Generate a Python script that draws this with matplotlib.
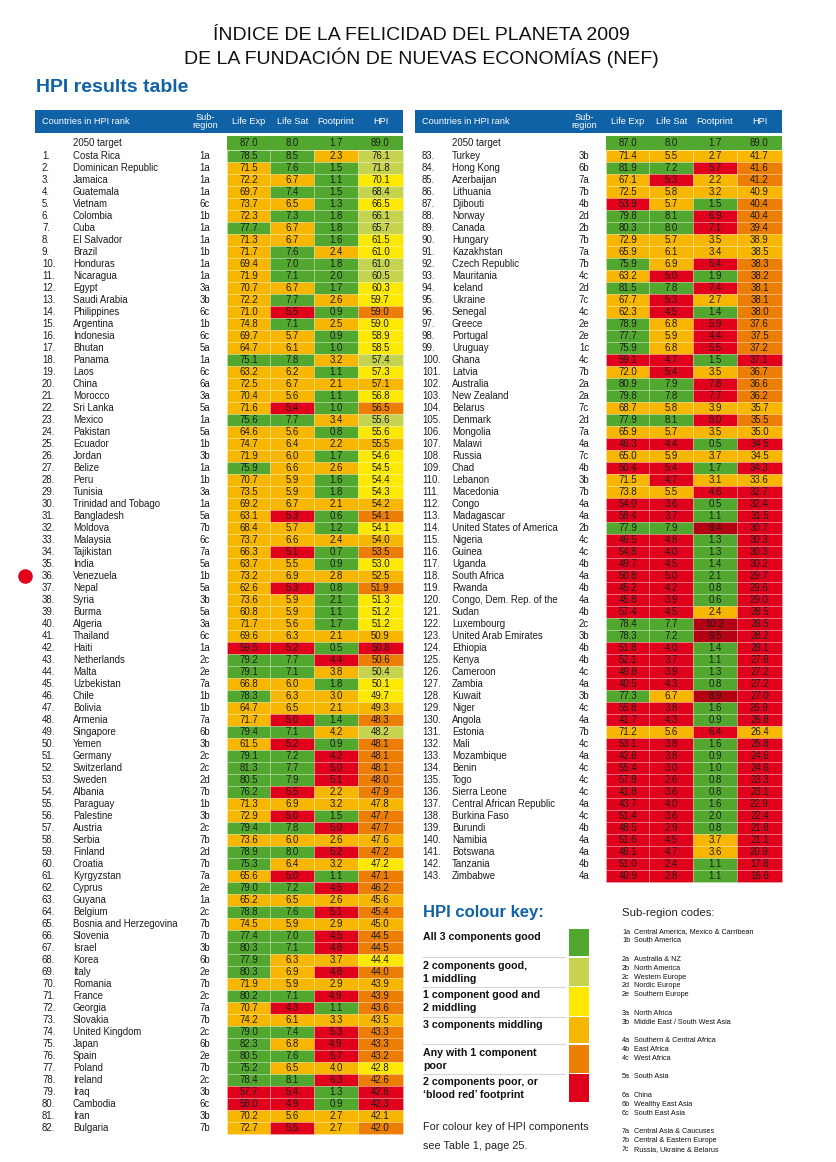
import matplotlib
matplotlib.use("Agg")
import matplotlib.pyplot as plt

# ---------------- DATA ----------------
countries_left = ["Costa Rica", "Dominican Republic", "Jamaica", "Guatemala", "Vietnam", "Colombia", "Cuba",
    "El Salvador", "Brazil", "Honduras", "Nicaragua", "Egypt", "Saudi Arabia", "Philippines", "Argentina",
    "Indonesia", "Bhutan", "Panama", "Laos", "China", "Morocco", "Sri Lanka", "Mexico", "Pakistan", "Ecuador",
    "Jordan", "Belize", "Peru", "Tunisia", "Trinidad and Tobago", "Bangladesh", "Moldova", "Malaysia",
    "Tajikistan", "India", "Venezuela", "Nepal", "Syria", "Burma", "Algeria", "Thailand", "Haiti",
    "Netherlands", "Malta", "Uzbekistan", "Chile", "Bolivia", "Armenia", "Singapore", "Yemen", "Germany",
    "Switzerland", "Sweden", "Albania", "Paraguay", "Palestine", "Austria", "Serbia", "Finland", "Croatia",
    "Kyrgyzstan", "Cyprus", "Guyana", "Belgium", "Bosnia and Herzegovina", "Slovenia", "Israel", "Korea",
    "Italy", "Romania", "France", "Georgia", "Slovakia", "United Kingdom", "Japan", "Spain", "Poland",
    "Ireland", "Iraq", "Cambodia", "Iran", "Bulgaria"]
countries_right = ["Turkey", "Hong Kong", "Azerbaijan", "Lithuania", "Djibouti", "Norway", "Canada", "Hungary",
    "Kazakhstan", "Czech Republic", "Mauritania", "Iceland", "Ukraine", "Senegal", "Greece", "Portugal",
    "Uruguay", "Ghana", "Latvia", "Australia", "New Zealand", "Belarus", "Denmark", "Mongolia", "Malawi",
    "Russia", "Chad", "Lebanon", "Macedonia", "Congo", "Madagascar", "United States of America", "Nigeria",
    "Guinea", "Uganda", "South Africa", "Rwanda", "Congo, Dem. Rep. of the", "Sudan", "Luxembourg",
    "United Arab Emirates", "Ethiopia", "Kenya", "Cameroon", "Zambia", "Kuwait", "Niger", "Angola", "Estonia",
    "Mali", "Mozambique", "Benin", "Togo", "Sierra Leone", "Central African Republic", "Burkina Faso",
    "Burundi", "Namibia", "Botswana", "Tanzania", "Zimbabwe"]
countries = countries_left + countries_right

subregions = ["1a", "1a", "1a", "1a", "6c", "1b", "1a", "1a", "1b", "1a", "1a", "3a", "3b", "6c", "1b", "6c",
    "5a", "1a", "6c", "6a", "3a", "5a", "1a", "5a", "1b", "3b", "1a", "1b", "3a", "1a", "5a", "7b", "6c", "7a",
    "5a", "1b", "5a", "3b", "5a", "3a", "6c", "1a", "2c", "2e", "7a", "1b", "1b", "7a", "6b", "3b", "2c", "2c",
    "2d", "7b", "1b", "3b", "2c", "7b", "2d", "7b", "7a", "2e", "1a", "2c", "7b", "7b", "3b", "6b", "2e", "7b",
    "2c", "7a", "7b", "2c", "6b", "2e", "7b", "2c", "3b", "6c", "3b", "7b",
    "3b", "6b", "7a", "7b", "4b", "2d", "2b", "7b", "7a", "7b", "4c", "2d", "7c", "4c", "2e", "2e", "1c", "4c",
    "7b", "2a", "2a", "7c", "2d", "7a", "4a", "7c", "4b", "3b", "7b", "4a", "4a", "2b", "4c", "4c", "4b", "4a",
    "4b", "4a", "4b", "2c", "3b", "4b", "4b", "4c", "4a", "3b", "4c", "4a", "7b", "4c", "4a", "4c", "4c", "4c",
    "4a", "4c", "4b", "4a", "4a", "4b", "4a"]

life_exp = [78.5, 71.5, 72.2, 69.7, 73.7, 72.3, 77.7, 71.3, 71.7, 69.4, 71.9, 70.7, 72.2, 71.0, 74.8, 69.7,
    64.7, 75.1, 63.2, 72.5, 70.4, 71.6, 75.6, 64.6, 74.7, 71.9, 75.9, 70.7, 73.5, 69.2, 63.1, 68.4, 73.7, 66.3,
    63.7, 73.2, 62.6, 73.6, 60.8, 71.7, 69.6, 59.5, 79.2, 79.1, 66.8, 78.3, 64.7, 71.7, 79.4, 61.5, 79.1, 81.3,
    80.5, 76.2, 71.3, 72.9, 79.4, 73.6, 78.9, 75.3, 65.6, 79.0, 65.2, 78.8, 74.5, 77.4, 80.3, 77.9, 80.3, 71.9,
    80.2, 70.7, 74.2, 79.0, 82.3, 80.5, 75.2, 78.4, 57.7, 58.0, 70.2, 72.7,
    71.4, 81.9, 67.1, 72.5, 53.9, 79.8, 80.3, 72.9, 65.9, 75.9, 63.2, 81.5, 67.7, 62.3, 78.9, 77.7, 75.9, 59.1,
    72.0, 80.9, 79.8, 68.7, 77.9, 65.9, 46.3, 65.0, 50.4, 71.5, 73.8, 54.0, 58.4, 77.9, 46.5, 54.8, 49.7, 50.8,
    45.2, 45.8, 57.4, 78.4, 78.3, 51.8, 52.1, 49.8, 40.5, 77.3, 55.8, 41.7, 71.2, 53.1, 42.8, 55.4, 57.8, 41.8,
    43.7, 51.4, 48.5, 51.6, 48.1, 51.0, 40.9]

life_sat = [8.5, 7.6, 6.7, 7.4, 6.5, 7.3, 6.7, 6.7, 7.6, 7.0, 7.1, 6.7, 7.7, 5.5, 7.1, 5.7, 6.1, 7.8, 6.2, 6.7,
    5.6, 5.4, 7.7, 5.6, 6.4, 6.0, 6.6, 5.9, 5.9, 6.7, 5.3, 5.7, 6.6, 5.1, 5.5, 6.9, 5.3, 5.9, 5.9, 5.6, 6.3, 5.2,
    7.7, 7.1, 6.0, 6.3, 6.5, 5.0, 7.1, 5.2, 7.2, 7.7, 7.9, 5.5, 6.9, 5.0, 7.8, 6.0, 8.0, 6.4, 5.0, 7.2, 6.5, 7.6,
    5.9, 7.0, 7.1, 6.3, 6.9, 5.9, 7.1, 4.3, 6.1, 7.4, 6.8, 7.6, 6.5, 8.1, 5.4, 4.9, 5.6, 5.5,
    5.5, 7.2, 5.3, 5.8, 5.7, 8.1, 8.0, 5.7, 6.1, 6.9, 5.0, 7.8, 5.3, 4.5, 6.8, 5.9, 6.8, 4.7, 5.4, 7.9, 7.8, 5.8,
    8.1, 5.7, 4.4, 5.9, 5.4, 4.7, 5.5, 3.6, 3.7, 7.9, 4.8, 4.0, 4.5, 5.0, 4.2, 3.9, 4.5, 7.7, 7.2, 4.0, 3.7, 3.9,
    4.3, 6.7, 3.8, 4.3, 5.6, 3.8, 3.8, 3.0, 2.6, 3.6, 4.0, 3.6, 2.9, 4.5, 4.7, 2.4, 2.8]

footprint = [2.3, 1.5, 1.1, 1.5, 1.3, 1.8, 1.8, 1.6, 2.4, 1.8, 2.0, 1.7, 2.6, 0.9, 2.5, 0.9, 1.0, 3.2, 1.1, 2.1,
    1.1, 1.0, 3.4, 0.8, 2.2, 1.7, 2.6, 1.6, 1.8, 2.1, 0.6, 1.2, 2.4, 0.7, 0.9, 2.8, 0.8, 2.1, 1.1, 1.7, 2.1, 0.5,
    4.4, 3.8, 1.8, 3.0, 2.1, 1.4, 4.2, 0.9, 4.2, 5.0, 5.1, 2.2, 3.2, 1.5, 5.0, 2.6, 5.2, 3.2, 1.1, 4.5, 2.6, 5.1,
    2.9, 4.5, 4.8, 3.7, 4.8, 2.9, 4.9, 1.1, 3.3, 5.3, 4.9, 5.7, 4.0, 6.3, 1.3, 0.9, 2.7, 2.7,
    2.7, 5.7, 2.2, 3.2, 1.5, 6.9, 7.1, 3.5, 3.4, 5.4, 1.9, 7.4, 2.7, 1.4, 5.9, 4.4, 5.5, 1.5, 3.5, 7.8, 7.7, 3.9,
    8.0, 3.5, 0.5, 3.7, 1.7, 3.1, 4.6, 0.5, 1.1, 9.4, 1.3, 1.3, 1.4, 2.1, 0.8, 0.6, 2.4, 10.2, 9.5, 1.4, 1.1, 1.3,
    0.8, 8.9, 1.6, 0.9, 6.4, 1.6, 0.9, 1.0, 0.8, 0.8, 1.6, 2.0, 0.8, 3.7, 3.6, 1.1, 1.1]

hpi = [76.1, 71.8, 70.1, 68.4, 66.5, 66.1, 65.7, 61.5, 61.0, 61.0, 60.5, 60.3, 59.7, 59.0, 59.0, 58.9, 58.5,
    57.4, 57.3, 57.1, 56.8, 56.5, 55.6, 55.6, 55.5, 54.6, 54.5, 54.4, 54.3, 54.2, 54.1, 54.1, 54.0, 53.5, 53.0,
    52.5, 51.9, 51.3, 51.2, 51.2, 50.9, 50.8, 50.6, 50.4, 50.1, 49.7, 49.3, 48.3, 48.2, 48.1, 48.1, 48.1, 48.0,
    47.9, 47.8, 47.7, 47.7, 47.6, 47.2, 47.2, 47.1, 46.2, 45.6, 45.4, 45.0, 44.5, 44.5, 44.4, 44.0, 43.9, 43.9,
    43.6, 43.5, 43.3, 43.3, 43.2, 42.8, 42.6, 42.6, 42.3, 42.1, 42.0,
    41.7, 41.6, 41.2, 40.9, 40.4, 40.4, 39.4, 38.9, 38.5, 38.3, 38.2, 38.1, 38.1, 38.0, 37.6, 37.5, 37.2, 37.1,
    36.7, 36.6, 36.2, 35.7, 35.5, 35.0, 34.5, 34.5, 34.3, 33.6, 32.7, 32.4, 31.5, 30.7, 30.3, 30.3, 30.2, 29.7,
    29.6, 29.0, 28.5, 28.5, 28.2, 28.1, 27.8, 27.2, 27.2, 27.0, 26.9, 26.8, 26.4, 25.8, 24.6, 24.6, 23.3, 23.1,
    22.9, 22.4, 21.8, 21.1, 20.9, 17.8, 16.6]

# cell colour classes: Life Exp, Life Sat, Footprint, HPI
# G good, L 2 good 1 middling, Y 1 good 2 middling, A middling, O one poor, R poor, D blood red
colour_codes = ["GGAL", "AGGL", "AAGY", "AGGL", "AAGY", "AGGL", "GAGL", "AAGY", "AGAY", "AGGL", "AGGL", "AAGY",
    "AGAY", "ARGO", "AGAY", "AAGY", "AAGY", "GGAL", "AAGY", "AAAA", "AAGY", "ARGO", "GGAL", "AAGY", "AAAA",
    "AAGY", "GAAY", "AAGY", "AAGY", "AAAA", "ARGO", "AAGY", "AAAA", "ARGO", "AAGY", "AAAA", "ARGO", "AAGY",
    "AAGY", "AAGY", "AAAA", "RRGR", "GGRO", "GGAL", "AAGY", "GAAY", "AAAA", "ARGO", "GGAL", "ARGO", "GGRO",
    "GGRO", "GGRO", "GRAO", "AAAA", "ARGO", "GGRO", "AAAA", "GGRO", "GAAY", "ARGO", "GGRO", "AAAA", "GGRO",
    "AAAA", "GGRO", "GGRO", "GAAY", "GARO", "AAAA", "GGRO", "ARGO", "AAAA", "GGRO", "GARO", "GGRO", "GAAY",
    "GGRO", "RRGR", "RRGR", "AAAA", "ARAO",
    "AAAA", "GGRO", "ARAO", "AAAA", "RAGO", "GGRO", "GGRO", "AAAA", "AAAA", "GARO", "ARGO", "GGRO", "ARAO",
    "ARGO", "GARO", "GARO", "GARO", "RRGR", "ARAO", "GGRO", "GGRO", "AAAA", "GGRO", "AAAA", "RRGR", "AAAA",
    "RRGR", "ARAA", "AARR", "RRGR", "RRGR", "GGDR", "RRGR", "RRGR", "RRGR", "RRGR", "RRGR", "RRGR", "RRAR",
    "GGDR", "GGDR", "RRGR", "RRGR", "RRGR", "RRGR", "GADR", "RRGR", "RRGR", "AARA", "RRGR", "RRGR", "RRGR",
    "RRGR", "RRGR", "RRGR", "RRGR", "RRGR", "RRAR", "RRAR", "RRGR", "RRGR"]

target_values = [87.0, 8.0, 1.7, 89.0]
column_labels = ["Life Exp", "Life Sat", "Footprint", "HPI"]

key_labels = ["All 3 components good", "2 components good,\n1 middling", "1 component good and\n2 middling",
    "3 components middling", "Any with 1 component\npoor", "2 components poor, or\n\u2018blood red\u2019 footprint"]
key_codes = ["G", "L", "Y", "A", "O", "R"]

subregion_codes = [["1a", "Central America, Mexico & Carribean"], ["1b", "South America"], None,
    ["2a", "Australia & NZ"], ["2b", "North America"], ["2c", "Western Europe"], ["2d", "Nordic Europe"],
    ["2e", "Southern Europe"], None, ["3a", "North Africa"], ["3b", "Middle East / South West Asia"], None,
    ["4a", "Southern & Central Africa"], ["4b", "East Africa"], ["4c", "West Africa"], None,
    ["5a", "South Asia"], None, ["6a", "China"], ["6b", "Wealthy East Asia"], ["6c", "South East Asia"], None,
    ["7a", "Central Asia & Caucuses"], ["7b", "Central & Eastern Europe"], ["7c", "Russia, Ukraine & Belarus"]]

# ---------------- STYLE ----------------
PALETTE = {"G": "#52a82e", "L": "#c5d34e", "Y": "#fde900", "A": "#f7b600",
           "O": "#ec7d05", "R": "#e1001b", "D": "#b30012"}
BLUE = "#0f62a6"
SANS = ["Liberation Sans", "DejaVu Sans"]
plt.rcParams["font.family"] = SANS

fig = plt.figure(figsize=(8.37, 11.62), dpi=100)
ax = fig.add_axes([0, 0, 1, 1])
ax.set_xlim(0, 837)
ax.set_ylim(1162, 0)
ax.axis("off")

ax.text(421, 36, "ÍNDICE DE LA FELICIDAD DEL PLANETA 2009", ha="center", va="center",
        fontsize=14, color="#111111")
ax.text(421, 58, "DE LA FUNDACIÓN DE NUEVAS ECONOMÍAS (NEF)", ha="center", va="center",
        fontsize=14, color="#111111")
ax.text(36, 88, "HPI results table", ha="left", va="center", fontsize=14, fontweight="bold", color=BLUE)

ROW_H = 12.0
FIRST_TOP = 150.0
TARGET_TOP = 135.5
TARGET_H = 14.0

tables = [
    dict(x0=35, x1=403, rank_x=42, name_x=73, sub_x=205, cells=[227, 270.5, 314, 358, 403], start=0, n=82),
    dict(x0=415, x1=782, rank_x=422, name_x=452, sub_x=584, cells=[606, 649.5, 693, 737, 782], start=82, n=61),
]
TXT = "#1c1c1c"
FS = 6.9

for t in tables:
    # header bar
    ax.bar(t["x0"], 23, width=t["x1"] - t["x0"], bottom=110, align="edge", color=BLUE, linewidth=0)
    ax.text(t["rank_x"], 121.5, "Countries in HPI rank", color="white", fontsize=6.6, va="center", ha="left")
    ax.text(t["sub_x"], 121.5, "Sub-\nregion", color="white", fontsize=6.6, va="center", ha="center",
            linespacing=0.85)
    c = t["cells"]
    for j, lab in enumerate(column_labels):
        ax.text((c[j] + c[j + 1]) / 2, 121.5, lab, color="white", fontsize=6.6, va="center", ha="center")
    # target row
    ax.text(t["name_x"], TARGET_TOP + TARGET_H / 2, "2050 target", fontsize=FS, va="center", ha="left", color=TXT)
    lefts = c[:-1]
    widths = [c[j + 1] - c[j] for j in range(4)]
    ax.bar(lefts, [TARGET_H] * 4, width=widths, bottom=TARGET_TOP, align="edge",
           color=PALETTE["G"], linewidth=0)
    for j, v in enumerate(target_values):
        ax.text((c[j] + c[j + 1]) / 2, TARGET_TOP + TARGET_H / 2, f"{v:.1f}", fontsize=FS,
                ha="center", va="center", color=TXT)
    # country rows
    for k in range(t["n"]):
        i = t["start"] + k
        top = FIRST_TOP + k * ROW_H
        yc = top + ROW_H / 2
        ax.text(t["rank_x"], yc, f"{i + 1}.", fontsize=FS, ha="left", va="center", color=TXT)
        ax.text(t["name_x"], yc, countries[i], fontsize=FS, ha="left", va="center", color=TXT)
        ax.text(t["sub_x"], yc, subregions[i], fontsize=FS, ha="center", va="center", color=TXT)
        vals = [life_exp[i], life_sat[i], footprint[i], hpi[i]]
        cols = [PALETTE[ch] for ch in colour_codes[i]]
        ax.bar(lefts, [ROW_H] * 4, width=widths, bottom=top, align="edge", color=cols,
               edgecolor=(1, 1, 1, 0.35), linewidth=0.4)
        for j, v in enumerate(vals):
            ax.text((c[j] + c[j + 1]) / 2, yc, f"{v:.1f}", fontsize=FS, ha="center", va="center", color=TXT)

# red marker for Venezuela
ven = countries.index("Venezuela")
ax.scatter([25], [FIRST_TOP + ven * ROW_H + ROW_H / 2], s=110, color="#e2001a", zorder=5, linewidths=0)

# ---------------- colour key ----------------
ax.text(423, 913, "HPI colour key:", fontsize=12, fontweight="bold", color=BLUE, ha="left", va="center")
key_tops = [929, 958, 987, 1017, 1045, 1074]
key_bots = [956, 986, 1016, 1043, 1073, 1102]
for k, (lab, code) in enumerate(zip(key_labels, key_codes)):
    ax.bar(569, key_bots[k] - key_tops[k], width=20, bottom=key_tops[k], align="edge",
           color=PALETTE[code], linewidth=0)
    ax.text(423, key_tops[k] + 3, lab, fontsize=7.7, fontweight="bold", ha="left", va="top",
            color="#111111", linespacing=1.35)
    if k < len(key_labels) - 1:
        ax.plot([423, 565], [key_bots[k] + 1, key_bots[k] + 1], color="#d5d5d5", linewidth=0.8)
ax.text(423, 1127, "For colour key of HPI components", fontsize=7.8, ha="left", va="center", color="#222222")
ax.text(423, 1146, "see Table 1, page 25.", fontsize=7.8, ha="left", va="center", color="#222222")

# ---------------- sub-region codes ----------------
ax.text(622, 913, "Sub-region codes:", fontsize=8.2, ha="left", va="center", color="#222222")
y = 932
for entry in subregion_codes:
    if entry is None:
        y += 9.5
        continue
    ax.text(622, y, entry[0], fontsize=5.2, ha="left", va="center", color="#111111")
    ax.text(634, y, entry[1], fontsize=5.2, ha="left", va="center", color="#111111")
    y += 8.9

fig.savefig("out.png", dpi=100, facecolor="white")
